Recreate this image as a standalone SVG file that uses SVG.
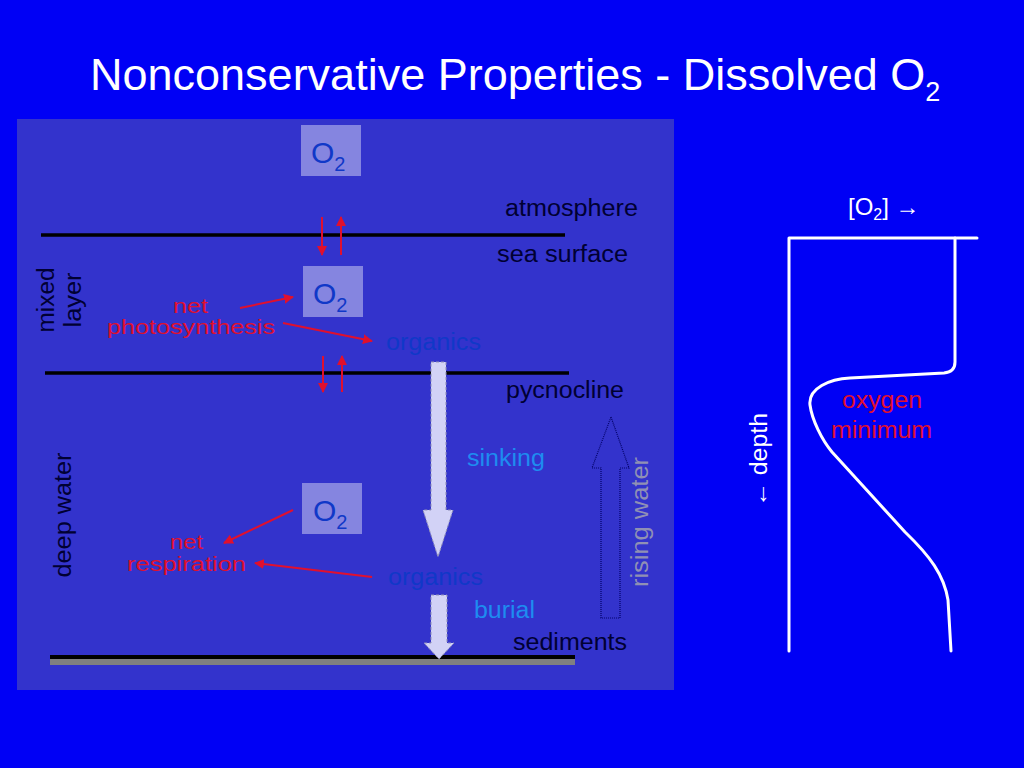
<svg xmlns="http://www.w3.org/2000/svg" width="1024" height="768" viewBox="0 0 1024 768">
<defs>
<style>
text{font-family:"Liberation Sans",Arial,Helvetica,sans-serif;}
.lbl{font-size:23px;fill:#000033;}
.red{font-size:23px;fill:#E0102E;}
.redsm{font-size:20px;fill:#E0102E;}
.org{font-size:23px;fill:#1038C8;}
.proc{font-size:23px;fill:#1E8CF0;}
.box{fill:#8585E0;}
.o2{fill:#1038C8;}
.rl{stroke:#E0102E;stroke-width:2;fill:none;marker-end:url(#ah);}
.bl{stroke:#000000;stroke-width:3.5;}
.wl{stroke:#FFFFFF;stroke-width:3;fill:none;stroke-linejoin:round;stroke-linecap:round;}
.fat{fill:#D2D2F6;stroke:#9090B8;stroke-width:1;stroke-dasharray:3 2;}
</style>
<marker id="ah" viewBox="0 0 10 10" refX="9" refY="5" markerWidth="5" markerHeight="5" orient="auto" markerUnits="strokeWidth">
<path d="M0,0 L10,5 L0,10 z" fill="#E0102E"/>
</marker>
</defs>
<rect x="0" y="0" width="1024" height="768" fill="#0000F5"/>
<text x="90" y="90" font-size="45" fill="#FFFFFF">Nonconservative Properties - Dissolved O<tspan font-size="27" dy="11">2</tspan></text>

<g id="panel">
<rect x="17" y="119" width="657" height="571" fill="#3333CC"/>
</g>

<g id="layers">
<line class="bl" x1="41" y1="235" x2="565" y2="235"/>
<line class="bl" x1="45" y1="373" x2="569" y2="373"/>
<rect x="50" y="659" width="525" height="6" fill="#808080"/>
<rect x="50" y="655" width="525" height="4" fill="#000000"/>
</g>

<g id="o2-atm">
<rect class="box" x="301" y="125" width="60" height="51"/>
<text class="o2" x="311" y="163" font-size="30">O<tspan font-size="20" dy="8">2</tspan></text>
</g>
<g id="o2-mixed">
<rect class="box" x="303" y="266" width="60" height="51"/>
<text class="o2" x="313" y="304" font-size="30">O<tspan font-size="20" dy="8">2</tspan></text>
</g>
<g id="o2-deep">
<rect class="box" x="302" y="483" width="60" height="51"/>
<text class="o2" x="313" y="521" font-size="30">O<tspan font-size="20" dy="8">2</tspan></text>
</g>

<g id="labels">
<text class="lbl" x="505" y="216" textLength="133" lengthAdjust="spacingAndGlyphs">atmosphere</text>
<text class="lbl" x="497" y="262" textLength="131" lengthAdjust="spacingAndGlyphs">sea surface</text>
<text class="lbl" x="506" y="398" textLength="118" lengthAdjust="spacingAndGlyphs">pycnocline</text>
<text class="lbl" x="513" y="650" textLength="114" lengthAdjust="spacingAndGlyphs">sediments</text>
<text class="lbl" transform="translate(54,300) rotate(-90)" text-anchor="middle" textLength="65" lengthAdjust="spacingAndGlyphs">mixed</text>
<text class="lbl" transform="translate(81,300) rotate(-90)" text-anchor="middle" textLength="55" lengthAdjust="spacingAndGlyphs">layer</text>
<text class="lbl" transform="translate(71,515) rotate(-90)" text-anchor="middle" textLength="125" lengthAdjust="spacingAndGlyphs">deep water</text>
</g>

<g id="net-photosynthesis">
<text class="redsm" x="173" y="313" textLength="35" lengthAdjust="spacingAndGlyphs">net</text>
<text class="redsm" x="107" y="334" textLength="168" lengthAdjust="spacingAndGlyphs">photosynthesis</text>
</g>
<g id="net-respiration">
<text class="redsm" x="170" y="549" textLength="33" lengthAdjust="spacingAndGlyphs">net</text>
<text class="redsm" x="127" y="571" textLength="119" lengthAdjust="spacingAndGlyphs">respiration</text>
</g>
<g id="organics-top">
<text class="org" x="386" y="350" textLength="95" lengthAdjust="spacingAndGlyphs">organics</text>
</g>
<g id="organics-bottom">
<text class="org" x="388" y="585" textLength="95" lengthAdjust="spacingAndGlyphs">organics</text>
</g>

<g id="sinking">
<polygon class="fat" points="431,362 446,362 446,510 453,510 438,557 423,510 431,510"/>
<text class="proc" x="467" y="466" textLength="78" lengthAdjust="spacingAndGlyphs">sinking</text>
</g>
<g id="burial">
<polygon class="fat" points="431,595 447,595 447,643 454,643 439,659 424,643 431,643"/>
<text class="proc" x="474" y="618" textLength="61" lengthAdjust="spacingAndGlyphs">burial</text>
</g>
<g id="rising-water">
<polygon points="611,417 629,468 620,468 620,618 601,618 601,468 592,468" fill="none" stroke="#000066" stroke-width="1.2" stroke-dasharray="1 1"/>
<text transform="translate(648,522) rotate(-90)" text-anchor="middle" font-size="23" fill="#9090B4" textLength="130" lengthAdjust="spacingAndGlyphs">rising water</text>
</g>

<g id="connectors">
<line class="rl" x1="322" y1="217" x2="322" y2="255"/>
<line class="rl" x1="341" y1="255" x2="341" y2="217"/>
<line class="rl" x1="323" y1="356" x2="323" y2="392"/>
<line class="rl" x1="342" y1="392" x2="342" y2="356"/>
<line class="rl" x1="240" y1="308" x2="293" y2="297"/>
<line class="rl" x1="283" y1="323" x2="372" y2="341"/>
<line class="rl" x1="293" y1="510" x2="224" y2="543"/>
<line class="rl" x1="372" y1="577" x2="255" y2="563"/>
</g>

<g id="profile">
<path class="wl" d="M789,651 L789,238 L977,238"/>
<path class="wl" d="M955,238 L955,362 Q955,372 944,373 L850,378 C830,379 808,388 810,405 C812,420 822,440 832,452 L905,532 C930,556 944,575 948,600 L951,651"/>
<text x="848" y="215" font-size="24" fill="#FFFFFF">[O<tspan font-size="16" dy="5">2</tspan><tspan dy="-5">] →</tspan></text>
<text transform="translate(767,460) rotate(-90)" text-anchor="middle" font-size="23" fill="#FFFFFF" textLength="94" lengthAdjust="spacingAndGlyphs">← depth</text>
<text class="red" x="842" y="408" textLength="80" lengthAdjust="spacingAndGlyphs">oxygen</text>
<text class="red" x="831" y="438" textLength="101" lengthAdjust="spacingAndGlyphs">minimum</text>
</g>
</svg>
